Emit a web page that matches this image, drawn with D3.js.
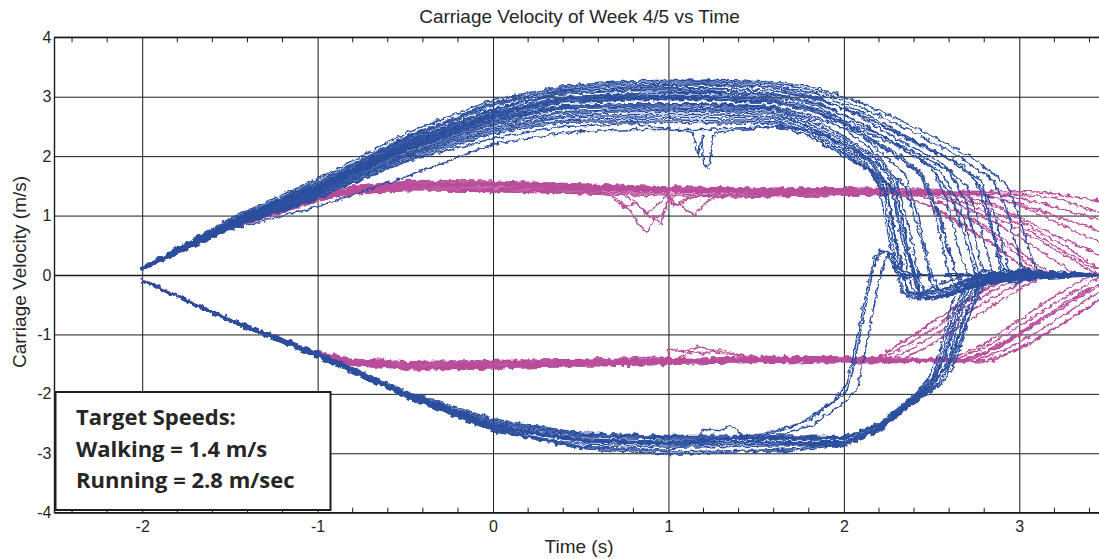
<!DOCTYPE html>
<html>
<head>
<meta charset="utf-8">
<script src="https://cdn.jsdelivr.net/npm/d3@7"></script>
<style>
  body { margin: 0; background: #fff; }
  svg text { font-family: "Liberation Sans", Arial, sans-serif; fill: #262626; }
</style>
</head>
<body>
<svg id="chart" width="1099" height="559"></svg>
<script>
// ---- labels ----
var titleText = 'Carriage Velocity of Week 4/5 vs Time';
var xLabelText = 'Time (s)';
var yLabelText = 'Carriage Velocity (m/s)';
var noteLines = ['Target Speeds:', 'Walking = 1.4 m/s', 'Running = 2.8 m/sec'];
var xTicks = [-2, -1, 0, 1, 2, 3];
var yTicks = [-4, -3, -2, -1, 0, 1, 2, 3, 4];

// ---- running runs, forward (blue, positive) ----
var blueUpTimes = [-2, -1.5, -1, -0.5, 0, 0.4, 0.8, 1.2, 1.6];
var blueUpHeads = [
  [0.12, 0.95, 1.62, 2.38, 2.95, 3.18, 3.27, 3.28, 3.25],
  [0.11, 0.92, 1.58, 2.32, 2.9, 3.15, 3.24, 3.25, 3.22],
  [0.12, 0.9, 1.55, 2.28, 2.85, 3.12, 3.2, 3.22, 3.18],
  [0.1, 0.9, 1.52, 2.25, 2.8, 3.08, 3.17, 3.2, 3.15],
  [0.11, 0.88, 1.5, 2.22, 2.78, 3.05, 3.1, 3.1, 3.05],
  [0.1, 0.86, 1.48, 2.2, 2.75, 3.0, 3.05, 3.06, 3.02],
  [0.12, 0.88, 1.5, 2.18, 2.72, 2.98, 3.02, 3.02, 2.98],
  [0.1, 0.85, 1.45, 2.15, 2.68, 2.95, 3.0, 3.0, 2.95],
  [0.11, 0.85, 1.45, 2.12, 2.65, 2.85, 2.88, 2.87, 2.82],
  [0.1, 0.84, 1.42, 2.1, 2.6, 2.82, 2.85, 2.84, 2.8],
  [0.1, 0.82, 1.4, 2.08, 2.58, 2.8, 2.82, 2.8, 2.78],
  [0.1, 0.82, 1.38, 2.05, 2.55, 2.75, 2.78, 2.78, 2.74],
  [0.09, 0.8, 1.36, 2.02, 2.52, 2.72, 2.75, 2.75, 2.7],
  [0.1, 0.8, 1.35, 2.0, 2.48, 2.68, 2.7, 2.7, 2.66],
  [0.09, 0.78, 1.33, 1.98, 2.45, 2.65, 2.66, 2.65, 2.62],
  [0.1, 0.8, 1.3, 1.95, 2.42, 2.6, 2.62, 2.6, 2.58],
  [0.08, 0.78, 1.28, 1.92, 2.38, 2.57, 2.58, 2.56, 2.55],
  [0.1, 0.76, 1.15, 1.65, 2.2, 2.4, 2.45, 2.45, 2.5],
  [0.1, 0.8, 1.3, 1.9, 2.3, 2.5, 2.55, 1.85, 2.5],
  [0.11, 0.86, 1.45, 2.15, 2.7, 2.95, 2.98, 2.97, 2.92],
  [0.1, 0.84, 1.44, 2.12, 2.66, 2.9, 2.95, 2.95, 2.9],
  [0.12, 0.9, 1.55, 2.3, 2.88, 3.1, 3.15, 3.15, 3.1],
  [0.11, 0.87, 1.47, 2.17, 2.72, 2.97, 3.05, 3.08, 3.05],
  [0.1, 0.86, 1.46, 2.16, 2.7, 2.92, 2.96, 2.96, 2.92],
  [0.11, 0.88, 1.5, 2.24, 2.8, 3.05, 3.12, 3.14, 3.1],
  [0.1, 0.84, 1.43, 2.1, 2.62, 2.84, 2.88, 2.88, 2.84]
];
var blueUpTails = [
  [[1.85,3.15],[2.1,2.9],[2.45,2.42],[2.72,2.0],[2.92,1.55],[3.0,1.0],[3.07,0.3],[3.12,-0.08],[3.2,0.03],[3.5,0.0]],
  [[1.85,3.1],[2.1,2.82],[2.4,2.4],[2.65,2.0],[2.85,1.6],[2.93,1.1],[3.0,0.3],[3.05,-0.1],[3.15,0.02],[3.5,0.01]],
  [[1.85,3.05],[2.1,2.75],[2.35,2.35],[2.6,1.95],[2.78,1.6],[2.86,1.0],[2.93,0.2],[2.98,-0.15],[3.1,0.0],[3.5,0.0]],
  [[1.85,3.0],[2.1,2.65],[2.3,2.3],[2.55,1.9],[2.7,1.5],[2.8,0.6],[2.86,-0.15],[2.95,-0.05],[3.2,0.05],[3.5,0.0]],
  [[1.85,2.9],[2.1,2.55],[2.3,2.2],[2.5,1.8],[2.62,1.3],[2.72,0.3],[2.78,-0.2],[2.9,0.04],[3.2,-0.03],[3.5,0.0]],
  [[1.85,2.85],[2.05,2.5],[2.25,2.1],[2.42,1.75],[2.52,1.2],[2.62,0.2],[2.68,-0.25],[2.8,-0.12],[3.1,0.06],[3.5,0.0]],
  [[1.85,2.8],[2.05,2.45],[2.2,2.1],[2.35,1.7],[2.42,1.0],[2.5,0.0],[2.56,-0.35],[2.7,-0.25],[2.85,-0.1],[3.1,0.05],[3.5,0.0]],
  [[1.85,2.75],[2.05,2.35],[2.2,2.0],[2.3,1.6],[2.37,0.8],[2.43,-0.1],[2.48,-0.4],[2.62,-0.32],[2.8,-0.15],[3.0,0.02],[3.5,0.02]],
  [[1.85,2.6],[2.05,2.25],[2.2,1.95],[2.28,1.6],[2.35,0.7],[2.41,-0.2],[2.47,-0.42],[2.6,-0.35],[2.75,-0.2],[2.95,-0.05],[3.3,0.04],[3.5,0.0]],
  [[1.8,2.6],[2.0,2.3],[2.18,1.95],[2.26,1.6],[2.33,0.6],[2.39,-0.25],[2.45,-0.4],[2.6,-0.3],[2.8,-0.12],[3.0,0.06],[3.5,0.0]],
  [[1.8,2.55],[2.0,2.25],[2.15,1.95],[2.23,1.6],[2.3,0.6],[2.36,-0.25],[2.42,-0.38],[2.55,-0.25],[2.7,-0.1],[2.9,0.08],[3.2,0.03],[3.5,0.0]],
  [[1.8,2.5],[2.0,2.2],[2.15,1.9],[2.24,1.5],[2.31,0.4],[2.37,-0.3],[2.45,-0.35],[2.6,-0.2],[2.9,-0.12],[3.2,0.0],[3.5,0.0]],
  [[1.8,2.5],[2.0,2.15],[2.12,1.9],[2.22,1.5],[2.28,0.5],[2.34,-0.3],[2.42,-0.4],[2.58,-0.38],[2.75,-0.15],[3.0,0.05],[3.5,0.0]],
  [[1.8,2.45],[2.0,2.1],[2.12,1.85],[2.2,1.5],[2.27,0.4],[2.33,-0.3],[2.4,-0.42],[2.5,-0.2],[2.7,0.0],[3.0,-0.08],[3.5,0.0]],
  [[1.8,2.4],[2.0,2.05],[2.15,1.75],[2.25,1.3],[2.31,0.3],[2.37,-0.35],[2.45,-0.3],[2.6,-0.22],[2.8,0.08],[3.1,-0.04],[3.5,0.0]],
  [[1.8,2.4],[2.0,2.05],[2.15,1.75],[2.28,1.4],[2.36,0.4],[2.42,-0.3],[2.5,-0.38],[2.65,-0.28],[2.95,0.05],[3.5,0.0]],
  [[1.8,2.35],[2.0,2.0],[2.18,1.7],[2.3,1.4],[2.38,0.3],[2.44,-0.35],[2.55,-0.3],[2.7,-0.15],[2.9,-0.1],[3.2,0.04],[3.5,0.0]],
  [[1.8,2.45],[2.0,2.2],[2.2,1.85],[2.35,1.5],[2.45,0.5],[2.5,-0.2],[2.6,-0.3],[2.75,-0.05],[3.0,0.08],[3.5,0.0]],
  [[1.14,2.4],[1.17,2.0],[1.19,2.35],[1.23,1.8],[1.26,2.4],[1.8,2.35],[2.0,2.0],[2.2,1.7],[2.3,1.4],[2.37,0.4],[2.43,-0.3],[2.55,-0.25],[2.8,0.02],[3.5,0.0]],
  [[1.85,2.75],[2.1,2.4],[2.3,2.05],[2.45,1.7],[2.55,1.0],[2.63,0.1],[2.7,-0.2],[2.85,-0.1],[3.1,0.05],[3.5,0.0]],
  [[1.85,2.72],[2.1,2.45],[2.35,2.1],[2.55,1.75],[2.66,1.2],[2.75,0.2],[2.8,-0.2],[2.95,0.0],[3.5,0.0]],
  [[1.85,2.95],[2.1,2.7],[2.35,2.3],[2.6,1.95],[2.75,1.6],[2.84,0.8],[2.9,0.0],[2.96,-0.15],[3.1,0.0],[3.5,0.0]],
  [[1.85,2.88],[2.1,2.55],[2.3,2.2],[2.5,1.8],[2.58,1.3],[2.66,0.4],[2.72,-0.15],[2.85,-0.05],[3.5,0.0]],
  [[1.85,2.78],[2.1,2.5],[2.35,2.15],[2.6,1.75],[2.7,1.2],[2.78,0.2],[2.84,-0.15],[3.0,0.02],[3.5,0.0]],
  [[1.85,2.98],[2.1,2.68],[2.4,2.25],[2.68,1.85],[2.8,1.4],[2.87,0.5],[2.93,-0.1],[3.05,0.02],[3.5,0.0]],
  [[1.85,2.65],[2.1,2.35],[2.3,2.0],[2.45,1.65],[2.52,1.0],[2.6,0.0],[2.66,-0.3],[2.8,-0.15],[3.0,-0.05],[3.5,0.0]]
];

// ---- running runs, backward (blue, negative) ----
var blueDownTimes = [-2, -1.5, -1, -0.5, 0, 0.5, 1, 1.5];
var blueDownHeads = [
  [-0.1, -0.75, -1.33, -1.98, -2.5, -2.72, -2.76, -2.76],
  [-0.09, -0.73, -1.3, -1.95, -2.42, -2.66, -2.7, -2.7],
  [-0.1, -0.77, -1.36, -2.02, -2.58, -2.8, -2.86, -2.85],
  [-0.1, -0.74, -1.32, -1.97, -2.47, -2.7, -2.74, -2.75],
  [-0.11, -0.78, -1.38, -2.05, -2.64, -2.84, -2.9, -2.88],
  [-0.1, -0.76, -1.35, -2.0, -2.53, -2.76, -2.8, -2.8],
  [-0.09, -0.75, -1.34, -2.0, -2.55, -2.78, -2.83, -2.82],
  [-0.1, -0.76, -1.34, -1.99, -2.45, -2.68, -2.72, -2.73],
  [-0.1, -0.77, -1.38, -2.05, -2.6, -2.9, -2.98, -2.95],
  [-0.1, -0.78, -1.38, -2.03, -2.62, -2.92, -3.02, -2.97],
  [-0.1, -0.76, -1.36, -2.02, -2.58, -2.88, -2.95, -2.8],
  [-0.1, -0.76, -1.35, -2.0, -2.55, -2.78, -2.82, -2.7],
  [-0.09, -0.75, -1.33, -1.98, -2.52, -2.76, -2.8, -2.75],
  [-0.1, -0.77, -1.36, -2.01, -2.55, -2.8, -2.84, -2.8]
];
var blueDownTails = [
  [[2.0,-2.76],[2.2,-2.55],[2.4,-2.08],[2.5,-1.8],[2.58,-1.4],[2.66,-0.6],[2.72,-0.2],[2.8,0.0],[3.5,0.0]],
  [[2.0,-2.72],[2.2,-2.5],[2.4,-2.02],[2.5,-1.75],[2.56,-1.3],[2.64,-0.5],[2.7,-0.15],[2.8,0.02],[3.5,0.0]],
  [[2.0,-2.85],[2.2,-2.62],[2.4,-2.12],[2.52,-1.82],[2.6,-1.45],[2.7,-0.6],[2.77,-0.15],[2.85,0.0],[3.5,0.0]],
  [[2.0,-2.76],[2.2,-2.54],[2.4,-2.05],[2.48,-1.75],[2.55,-1.25],[2.62,-0.45],[2.68,-0.1],[2.78,0.02],[3.5,0.0]],
  [[2.0,-2.87],[2.2,-2.63],[2.4,-2.15],[2.55,-1.8],[2.63,-1.4],[2.73,-0.55],[2.8,-0.1],[2.9,0.0],[3.5,0.0]],
  [[2.0,-2.8],[2.2,-2.58],[2.4,-2.1],[2.5,-1.85],[2.6,-1.5],[2.68,-0.8],[2.75,-0.25],[2.82,0.0],[3.5,0.0]],
  [[2.0,-2.82],[2.2,-2.58],[2.4,-2.08],[2.52,-1.75],[2.58,-1.35],[2.67,-0.5],[2.74,-0.1],[2.85,0.0],[3.5,0.0]],
  [[2.0,-2.74],[2.2,-2.52],[2.4,-2.06],[2.5,-1.78],[2.57,-1.35],[2.65,-0.55],[2.71,-0.15],[2.8,0.0],[3.5,0.0]],
  [[1.75,-2.92],[2.0,-2.82],[2.2,-2.6],[2.4,-2.12],[2.55,-1.8],[2.62,-1.4],[2.7,-0.6],[2.78,-0.15],[2.88,0.0],[3.5,0.0]],
  [[1.75,-2.95],[2.0,-2.85],[2.2,-2.62],[2.4,-2.15],[2.56,-1.82],[2.64,-1.45],[2.72,-0.65],[2.8,-0.18],[2.9,0.0],[3.5,0.0]],
  [[1.15,-2.82],[1.2,-2.6],[1.3,-2.62],[1.35,-2.52],[1.42,-2.7],[1.75,-2.85],[2.0,-2.82],[2.2,-2.58],[2.4,-2.1],[2.53,-1.78],[2.6,-1.38],[2.68,-0.55],[2.76,-0.12],[2.85,0.0],[3.5,0.0]],
  [[1.75,-2.5],[1.95,-2.1],[2.02,-1.8],[2.08,-1.0],[2.14,-0.1],[2.18,0.3],[2.21,0.42],[2.25,0.35],[2.3,0.05],[2.36,-0.05],[2.5,0.0],[3.5,0.0]],
  [[1.8,-2.45],[2.0,-2.0],[2.04,-1.75],[2.1,-0.9],[2.16,0.0],[2.2,0.35],[2.24,0.4],[2.28,0.2],[2.33,0.0],[3.5,0.0]],
  [[1.8,-2.55],[2.0,-2.15],[2.08,-1.9],[2.14,-1.0],[2.2,-0.1],[2.24,0.3],[2.28,0.38],[2.32,0.1],[2.4,0.0],[3.5,0.0]]
];

// ---- walking runs, forward (pink, positive) ----
var pinkTimes = [-2, -1.5, -1, -0.8, -0.5, 0, 0.5, 1, 1.5, 2];
var pinkUpHeads = [
  [0.09, 0.8, 1.28, 1.44, 1.54, 1.55, 1.5, 1.45, 1.43, 1.44],
  [0.08, 0.78, 1.25, 1.38, 1.45, 1.44, 1.41, 1.36, 1.35, 1.37],
  [0.1, 0.82, 1.3, 1.47, 1.57, 1.56, 1.52, 1.47, 1.45, 1.46],
  [0.09, 0.79, 1.26, 1.36, 1.42, 1.42, 1.39, 1.34, 1.33, 1.35],
  [0.08, 0.77, 1.24, 1.4, 1.48, 1.49, 1.44, 1.39, 1.38, 1.4],
  [0.1, 0.81, 1.29, 1.45, 1.55, 1.53, 1.49, 1.43, 1.42, 1.42],
  [0.09, 0.8, 1.27, 1.41, 1.5, 1.5, 1.45, 1.4, 1.4, 1.41],
  [0.09, 0.79, 1.26, 1.37, 1.43, 1.4, 1.37, 1.32, 1.31, 1.34],
  [0.1, 0.83, 1.31, 1.48, 1.59, 1.58, 1.53, 1.48, 1.46, 1.47],
  [0.08, 0.78, 1.25, 1.38, 1.42, 1.41, 1.38, 1.33, 1.32, 1.34],
  [0.09, 0.8, 1.28, 1.43, 1.52, 1.53, 1.48, 1.43, 1.41, 1.42],
  [0.1, 0.81, 1.28, 1.44, 1.53, 1.51, 1.47, 1.44, 1.42, 1.43],
  [0.09, 0.8, 1.27, 1.4, 1.47, 1.46, 1.43, 1.38, 1.37, 1.38],
  [0.09, 0.79, 1.26, 1.42, 1.5, 1.52, 1.47, 1.41, 1.4, 1.41]
];
var pinkUpTails = [
  [[2.25,1.4],[2.45,1.2],[2.65,0.88],[2.85,0.5],[3.0,0.18],[3.1,0.02],[3.5,0.0]],
  [[2.3,1.38],[2.5,1.15],[2.7,0.82],[2.9,0.42],[3.02,0.12],[3.12,0.0],[3.5,0.0]],
  [[2.35,1.42],[2.55,1.22],[2.75,0.92],[2.95,0.52],[3.1,0.17],[3.2,0.0],[3.5,0.0]],
  [[0.6,1.4],[0.7,1.3],[0.78,1.1],[0.83,0.85],[0.88,0.73],[0.92,0.95],[0.96,0.85],[1.03,1.15],[1.1,1.3],
   [2.4,1.38],[2.6,1.15],[2.8,0.78],[3.0,0.32],[3.1,0.06],[3.5,0.0]],
  [[2.45,1.4],[2.65,1.2],[2.85,0.9],[3.05,0.55],[3.2,0.25],[3.32,0.02],[3.5,0.0]],
  [[2.8,1.4],[3.0,1.3],[3.2,1.15],[3.4,0.98],[3.5,0.9]],
  [[2.7,1.4],[2.9,1.28],[3.1,1.05],[3.3,0.76],[3.5,0.5]],
  [[0.65,1.35],[0.75,1.15],[0.82,1.2],[0.9,0.95],[0.98,1.05],[1.05,1.2],[1.15,1.0],[1.22,1.25],[1.3,1.32],
   [2.6,1.38],[2.85,1.2],[3.05,0.9],[3.25,0.6],[3.5,0.3]],
  [[2.55,1.44],[2.8,1.15],[3.0,0.85],[3.2,0.5],[3.4,0.15],[3.5,0.05]],
  [[3.0,1.36],[3.2,1.3],[3.35,1.15],[3.5,1.0]],
  [[3.1,1.4],[3.3,1.33],[3.5,1.22]],
  [[2.65,1.4],[2.9,1.1],[3.1,0.75],[3.3,0.42],[3.45,0.1],[3.5,0.02]],
  [[0.7,1.42],[0.8,1.25],[0.88,1.05],[0.95,1.2],[1.05,1.15],[1.12,1.3],
   [2.75,1.38],[3.0,1.2],[3.25,0.95],[3.5,0.7]],
  [[2.5,1.4],[2.7,1.2],[2.9,0.92],[3.1,0.6],[3.28,0.3],[3.42,0.05],[3.5,0.0]]
];

// ---- walking runs, backward (pink, negative) ----
var pinkDownHeads = [
  [-0.08, -0.75, -1.3, -1.46, -1.55, -1.53, -1.5, -1.47, -1.44, -1.44],
  [-0.09, -0.77, -1.33, -1.49, -1.58, -1.56, -1.52, -1.49, -1.46, -1.46],
  [-0.08, -0.74, -1.29, -1.41, -1.46, -1.44, -1.42, -1.4, -1.37, -1.38],
  [-0.1, -0.78, -1.35, -1.52, -1.6, -1.58, -1.53, -1.5, -1.47, -1.47],
  [-0.09, -0.76, -1.32, -1.45, -1.5, -1.48, -1.45, -1.42, -1.4, -1.41],
  [-0.08, -0.75, -1.31, -1.47, -1.54, -1.52, -1.49, -1.46, -1.43, -1.43],
  [-0.09, -0.77, -1.34, -1.5, -1.57, -1.55, -1.51, -1.47, -1.45, -1.45],
  [-0.08, -0.74, -1.3, -1.42, -1.47, -1.46, -1.44, -1.41, -1.38, -1.39],
  [-0.1, -0.78, -1.36, -1.51, -1.59, -1.57, -1.53, -1.5, -1.47, -1.48],
  [-0.09, -0.76, -1.32, -1.46, -1.52, -1.5, -1.47, -1.44, -1.42, -1.43],
  [-0.08, -0.75, -1.3, -1.44, -1.49, -1.48, -1.46, -1.44, -1.4, -1.41],
  [-0.09, -0.76, -1.33, -1.48, -1.55, -1.54, -1.5, -1.45, -1.44, -1.45],
  [-0.1, -0.77, -1.34, -1.49, -1.56, -1.53, -1.49, -1.47, -1.45, -1.46]
];
var pinkDownTails = [
  [[2.2,-1.42],[2.35,-1.2],[2.5,-0.92],[2.65,-0.62],[2.8,-0.35],[2.95,-0.12],[3.05,0.0],[3.5,0.0]],
  [[2.25,-1.43],[2.4,-1.22],[2.55,-0.95],[2.7,-0.65],[2.85,-0.38],[3.0,-0.14],[3.1,0.0],[3.5,0.0]],
  [[0.95,-1.38],[1.0,-1.25],[1.1,-1.28],[1.18,-1.2],[1.28,-1.3],[1.4,-1.35],
   [2.2,-1.4],[2.32,-1.15],[2.48,-0.85],[2.62,-0.58],[2.78,-0.3],[2.92,-0.08],[3.0,0.0],[3.5,0.0]],
  [[2.3,-1.45],[2.45,-1.25],[2.6,-0.98],[2.75,-0.7],[2.9,-0.42],[3.05,-0.16],[3.15,0.0],[3.5,0.0]],
  [[2.18,-1.43],[2.3,-1.18],[2.45,-0.9],[2.6,-0.6],[2.75,-0.32],[2.9,-0.1],[3.0,0.0],[3.5,0.0]],
  [[2.7,-1.42],[2.85,-1.25],[3.0,-1.0],[3.2,-0.62],[3.4,-0.28],[3.5,-0.12]],
  [[1.05,-1.42],[1.12,-1.3],[1.2,-1.33],[1.3,-1.26],[1.42,-1.36],
   [2.75,-1.44],[2.9,-1.28],[3.05,-1.05],[3.25,-0.68],[3.45,-0.3],[3.5,-0.22]],
  [[2.65,-1.41],[2.8,-1.22],[2.95,-0.95],[3.15,-0.58],[3.35,-0.22],[3.48,0.0],[3.5,0.0]],
  [[2.8,-1.46],[2.95,-1.3],[3.1,-1.08],[3.3,-0.72],[3.5,-0.35]],
  [[2.72,-1.43],[2.88,-1.22],[3.02,-0.98],[3.22,-0.6],[3.42,-0.2],[3.5,-0.08]],
  [[2.6,-1.42],[2.78,-1.2],[2.92,-0.92],[3.1,-0.55],[3.3,-0.18],[3.42,0.0],[3.5,0.0]],
  [[2.85,-1.44],[3.0,-1.25],[3.15,-1.0],[3.35,-0.62],[3.5,-0.32]],
  [[2.68,-1.44],[2.84,-1.24],[3.0,-0.98],[3.18,-0.62],[3.38,-0.25],[3.5,-0.1]]
];

// join the shared time grid with each run's own points
function buildTraces(times, heads, tails) {
  return heads.map(function(h, i) {
    var pts = times.map(function(t, j) { return [t, h[j]]; }).concat(tails[i]);
    return pts.sort(function(a, b) { return a[0] - b[0]; });
  });
}

var pinkUp = buildTraces(pinkTimes, pinkUpHeads, pinkUpTails);
var pinkDown = buildTraces(pinkTimes, pinkDownHeads, pinkDownTails);
var blueUp = buildTraces(blueUpTimes, blueUpHeads, blueUpTails);
var blueDown = buildTraces(blueDownTimes, blueDownHeads, blueDownTails);

var blue = '#2c4f9e', pink = '#b94d9b';

var svg = d3.select('#chart');
var plotL = 54.5, plotT = 37.3, plotB = 512.7, plotR = 1107;

var x = d3.scaleLinear().domain([-2.5, 3.5]).range([plotL, plotR]);
var y = d3.scaleLinear().domain([-4, 4]).range([plotB, plotT]);

svg.append('defs').html(
  '<clipPath id="plotClip"><rect x="' + plotL + '" y="' + plotT + '" width="' + (plotR - plotL) + '" height="' + (plotB - plotT) + '"/></clipPath>' +
  '<filter id="jitter" x="-2%" y="-2%" width="104%" height="104%">' +
  '<feTurbulence type="fractalNoise" baseFrequency="0.18" numOctaves="2" seed="4" result="n"/>' +
  '<feDisplacementMap in="SourceGraphic" in2="n" scale="6" xChannelSelector="R" yChannelSelector="G"/></filter>'
);

var fmt = function(d) { return String(d); };

// grid
var xGrid = d3.axisBottom(x).tickValues(xTicks).tickSize(-(plotB - plotT)).tickPadding(8).tickFormat(fmt);
var gx = svg.append('g').attr('transform', 'translate(0,' + plotB + ')').call(xGrid);
gx.select('.domain').remove();
gx.selectAll('line').attr('stroke', '#1a1a1a').attr('stroke-width', 1);
gx.selectAll('text').style('font-size', '16px').attr('fill', '#262626');

var yGrid = d3.axisLeft(y).tickValues(yTicks).tickSize(-(plotR - plotL)).tickPadding(3).tickFormat(fmt);
var gy = svg.append('g').attr('transform', 'translate(' + plotL + ',0)').call(yGrid);
gy.select('.domain').remove();
gy.selectAll('line').attr('stroke', '#1a1a1a').attr('stroke-width', function(d) { return d === 0 ? 1.6 : 1; });
gy.selectAll('text').style('font-size', '16px').attr('fill', '#262626');

// traces
var line = d3.line().x(function(d) { return x(d[0]); }).y(function(d) { return y(d[1]); });
var plot = svg.append('g').attr('clip-path', 'url(#plotClip)');
var traces = plot.append('g').attr('filter', 'url(#jitter)');

function drawSet(data, color) {
  traces.append('g').selectAll('path')
    .data(data)
    .enter()
    .append('path')
    .attr('d', line)
    .attr('fill', 'none')
    .attr('stroke', color)
    .attr('stroke-width', 1.5)
    .attr('stroke-linejoin', 'round');
}
drawSet(pinkUp, pink);
drawSet(pinkDown, pink);
drawSet(blueUp, blue);
drawSet(blueDown, blue);

// frame + minor ticks
svg.append('rect')
  .attr('x', plotL).attr('y', plotT).attr('width', plotR - plotL).attr('height', plotB - plotT)
  .attr('fill', 'none').attr('stroke', '#1a1a1a').attr('stroke-width', 1.4);

var minor = d3.range(-12, 18).map(function(i) { return i / 5; }).filter(function(v) { return Math.abs(v - Math.round(v)) > 1e-6; });
var ticks = svg.append('g').attr('stroke', '#1a1a1a').attr('stroke-width', 1);
ticks.selectAll('.mt').data(minor).enter().append('line')
  .attr('x1', function(d) { return x(d); }).attr('x2', function(d) { return x(d); })
  .attr('y1', plotT).attr('y2', plotT + 5);
ticks.selectAll('.mb').data(minor).enter().append('line')
  .attr('x1', function(d) { return x(d); }).attr('x2', function(d) { return x(d); })
  .attr('y1', plotB).attr('y2', plotB - 5);

// note box
var note = svg.append('g');
note.append('rect')
  .attr('x', 55.5).attr('y', 392).attr('width', 275).attr('height', 118)
  .attr('fill', '#fff').attr('stroke', '#1e1e1e').attr('stroke-width', 2);
note.selectAll('text')
  .data(noteLines)
  .enter()
  .append('text')
  .attr('x', 76)
  .attr('y', function(d, i) { return 425 + i * 31.5; })
  .style('font-family', '"Open Sans", Lato, sans-serif')
  .style('font-weight', 'bold')
  .style('font-size', '22px')
  .attr('fill', '#222')
  .text(function(d) { return d; });

// titles
svg.append('text').attr('x', 579.5).attr('y', 23).attr('text-anchor', 'middle')
  .style('font-size', '19px').text(titleText);
svg.append('text').attr('x', 579).attr('y', 553).attr('text-anchor', 'middle')
  .style('font-size', '19px').text(xLabelText);
svg.append('text').attr('transform', 'translate(26,272) rotate(-90)').attr('text-anchor', 'middle')
  .style('font-size', '19px').text(yLabelText);
</script>
</body>
</html>
